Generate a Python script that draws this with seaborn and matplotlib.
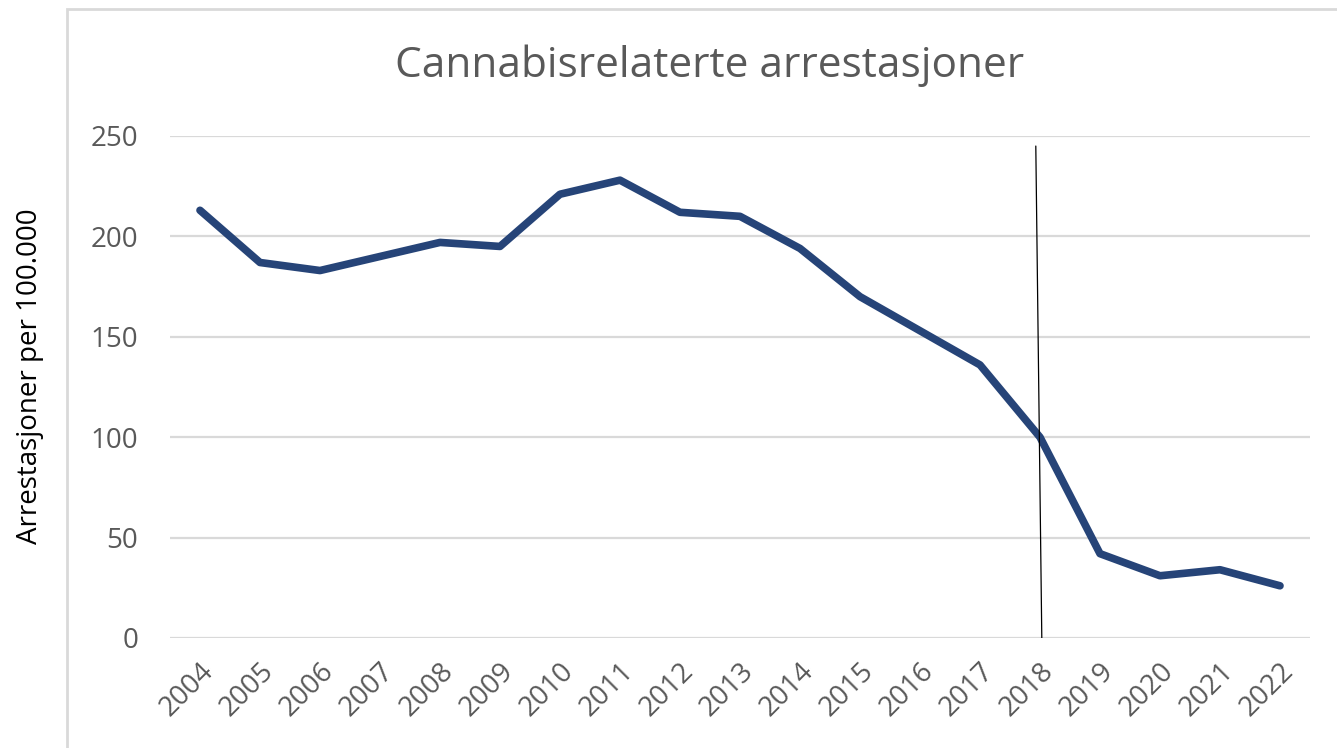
import matplotlib.pyplot as plt
import seaborn as sns
from matplotlib.patches import Rectangle
from pandas import DataFrame

years = list(range(2004, 2023))
arrests = [213, 187, 183, 190, 197, 195, 221, 228, 212, 210, 194, 170, 153, 136,
           100, 42, 31, 34, 26]
marker_year = 2018
marker_top = 245
y_ticks = [0, 50, 100, 150, 200, 250]

sns.set_theme(style="white")
plt.rcParams['font.family'] = ['Open Sans', 'DejaVu Sans']

data = DataFrame({'year': years, 'arrests': arrests})

fig = plt.figure(figsize=(13.37, 7.48), dpi=100)
ax = fig.add_axes([170 / 1337, 1 - 638 / 748, 1140 / 1337, 502 / 748])

sns.lineplot(data=data, x='year', y='arrests', ax=ax, color='#264478', linewidth=5.5,
             solid_capstyle='round', solid_joinstyle='round')

# thin slanted marker line at 2018
ax.plot([marker_year - 0.07, marker_year + 0.03], [marker_top, 0], color='black', linewidth=0.9)

ax.set_xlim(years[0] - 0.5, years[-1] + 0.5)
ax.set_ylim(0, 250)
ax.set_yticks(y_ticks)
ax.set_xticks(years)
ax.set_xticklabels([str(y) for y in years], rotation=45, ha='right', rotation_mode='anchor')
ax.yaxis.grid(True, color='#d9d9d9', linewidth=1.6)
ax.xaxis.grid(False)
for s in ax.spines.values():
    s.set_visible(False)
ax.tick_params(axis='both', length=0, labelsize=20, colors='#595959')
ax.tick_params(axis='y', pad=23)
ax.tick_params(axis='x', pad=14)
ax.set_xlabel('')
ax.set_ylabel('')

fig.text(710 / 1337, 1 - 66 / 748, 'Cannabisrelaterte arrestasjoner', ha='center', va='center',
         fontsize=30.5, color='#595959')
fig.text(30 / 1337, 1 - 376 / 748, 'Arrestasjoner per 100.000', ha='center', va='center',
         rotation=90, fontsize=20, color='black')

fig.patches.append(Rectangle((67 / 1337, -0.05), 1.0, 1 - 9 / 748 + 0.05, transform=fig.transFigure,
                             fill=False, edgecolor='#d9d9d9', linewidth=2))

fig.savefig('out.png', dpi=100)
